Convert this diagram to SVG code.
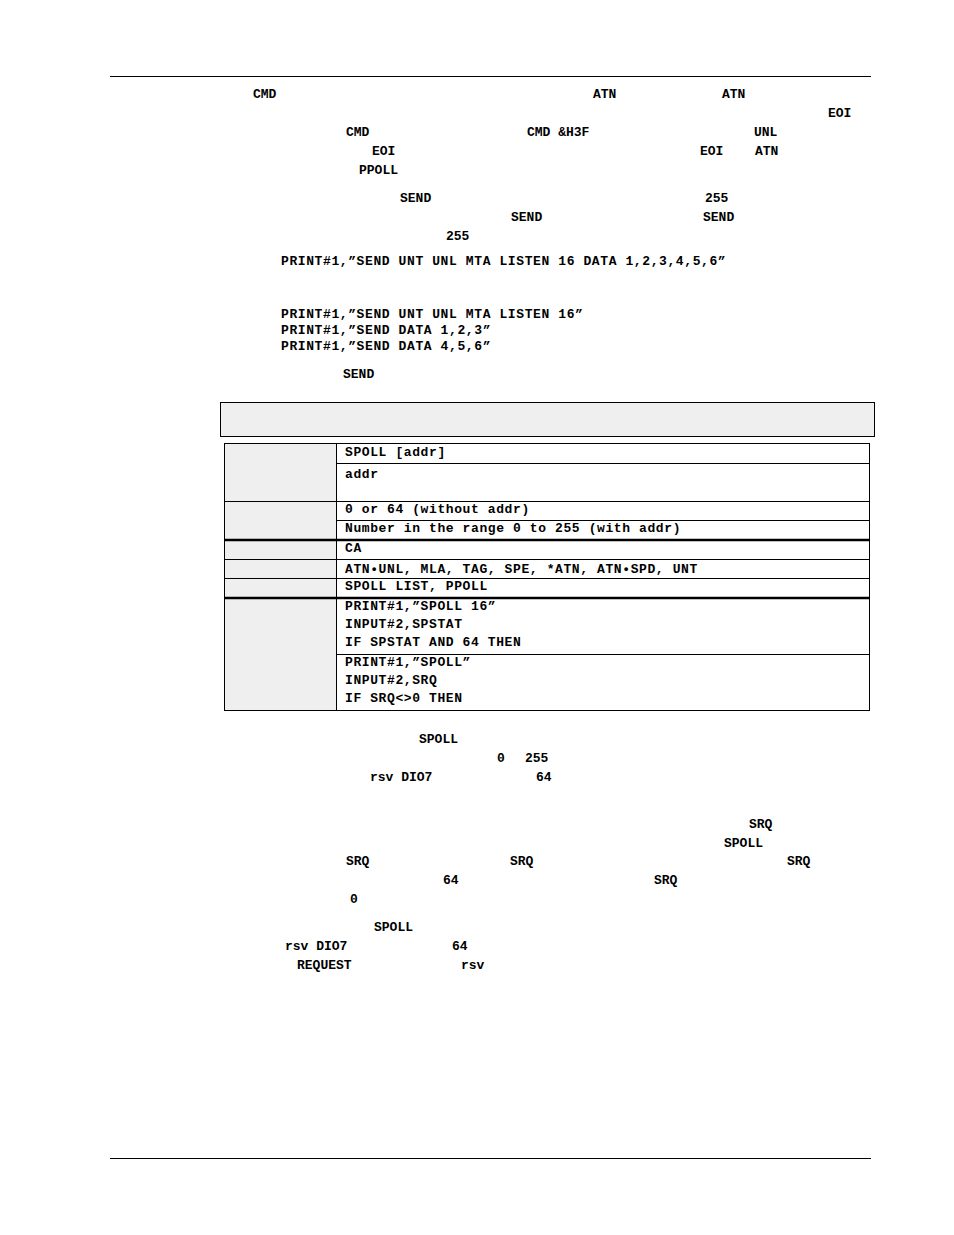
<svg xmlns="http://www.w3.org/2000/svg" width="954" height="1235" viewBox="0 0 954 1235">
<style>
text{font-family:"Liberation Mono","Courier New",monospace;font-weight:bold;font-size:13px;fill:#000}
.b{letter-spacing:0.6px}
.t{letter-spacing:0.6px}
.l{stroke:#000;stroke-width:1;fill:none}
.k{stroke:#000;stroke-width:2.5}
</style>
<rect width="954" height="1235" fill="#fff"/>
<line x1="110" y1="76.5" x2="871" y2="76.5" class="l"/>
<line x1="110" y1="1158.5" x2="871" y2="1158.5" class="l"/>
<g id="body">
<text x="253" y="98">CMD</text><text x="593" y="98">ATN</text><text x="722" y="98">ATN</text>
<text x="828" y="117">EOI</text>
<text x="346" y="136">CMD</text><text x="527" y="136">CMD &amp;H3F</text><text x="754" y="136">UNL</text>
<text x="372" y="155">EOI</text><text x="700" y="155">EOI</text><text x="755" y="155">ATN</text>
<text x="359" y="174">PPOLL</text>
<text x="400" y="202">SEND</text><text x="705" y="202">255</text>
<text x="511" y="221">SEND</text><text x="703" y="221">SEND</text>
<text x="446" y="240">255</text>
<text class="b" x="281" y="265">PRINT#1,”SEND UNT UNL MTA LISTEN 16 DATA 1,2,3,4,5,6”</text>
<text class="b" x="281" y="318">PRINT#1,”SEND UNT UNL MTA LISTEN 16”</text>
<text class="b" x="281" y="334">PRINT#1,”SEND DATA 1,2,3”</text>
<text class="b" x="281" y="350">PRINT#1,”SEND DATA 4,5,6”</text>
<text x="343" y="378">SEND</text>
</g>
<g id="table">
<rect x="220.5" y="402.5" width="654" height="34" style="fill:#efefef;stroke:#000;stroke-width:1"/>
<rect x="224.5" y="443.5" width="645" height="267" style="fill:#fff;stroke:#000;stroke-width:1"/>
<rect x="225" y="444" width="111" height="266" fill="#efefef"/>
<line x1="336.5" y1="443" x2="336.5" y2="711" class="l"/>
<line x1="336" y1="463.5" x2="870" y2="463.5" class="l"/>
<line x1="224" y1="501.5" x2="870" y2="501.5" class="l"/>
<line x1="336" y1="520.5" x2="870" y2="520.5" class="l"/>
<line x1="224" y1="540" x2="870" y2="540" class="k"/>
<line x1="224" y1="559.5" x2="870" y2="559.5" class="l"/>
<line x1="224" y1="578.5" x2="870" y2="578.5" class="l"/>
<line x1="224" y1="598" x2="870" y2="598" class="k"/>
<line x1="336" y1="654.5" x2="870" y2="654.5" class="l"/>
<text class="t" x="345" y="456">SPOLL [addr]</text>
<text class="t" x="345" y="478">addr</text>
<text class="t" x="345" y="513">0 or 64 (without addr)</text>
<text class="t" x="345" y="532">Number in the range 0 to 255 (with addr)</text>
<text class="t" x="345" y="552">CA</text>
<text class="t" x="345" y="573">ATN•UNL, MLA, TAG, SPE, *ATN, ATN•SPD, UNT</text>
<text class="t" x="345" y="590">SPOLL LIST, PPOLL</text>
<text class="t" x="345" y="610">PRINT#1,”SPOLL 16”</text>
<text class="t" x="345" y="628">INPUT#2,SPSTAT</text>
<text class="t" x="345" y="646">IF SPSTAT AND 64 THEN</text>
<text class="t" x="345" y="666">PRINT#1,”SPOLL”</text>
<text class="t" x="345" y="684">INPUT#2,SRQ</text>
<text class="t" x="345" y="702">IF SRQ&lt;&gt;0 THEN</text>
</g>
<g id="after">
<text x="419" y="743">SPOLL</text>
<text x="497" y="762">0</text><text x="525" y="762">255</text>
<text x="370" y="781">rsv DIO7</text><text x="536" y="781">64</text>
<text x="749" y="828">SRQ</text>
<text x="724" y="847">SPOLL</text>
<text x="346" y="865">SRQ</text><text x="510" y="865">SRQ</text><text x="787" y="865">SRQ</text>
<text x="443" y="884">64</text><text x="654" y="884">SRQ</text>
<text x="350" y="903">0</text>
<text x="374" y="931">SPOLL</text>
<text x="285" y="950">rsv DIO7</text><text x="452" y="950">64</text>
<text x="297" y="969">REQUEST</text><text x="461" y="969">rsv</text>
</g>
</svg>
